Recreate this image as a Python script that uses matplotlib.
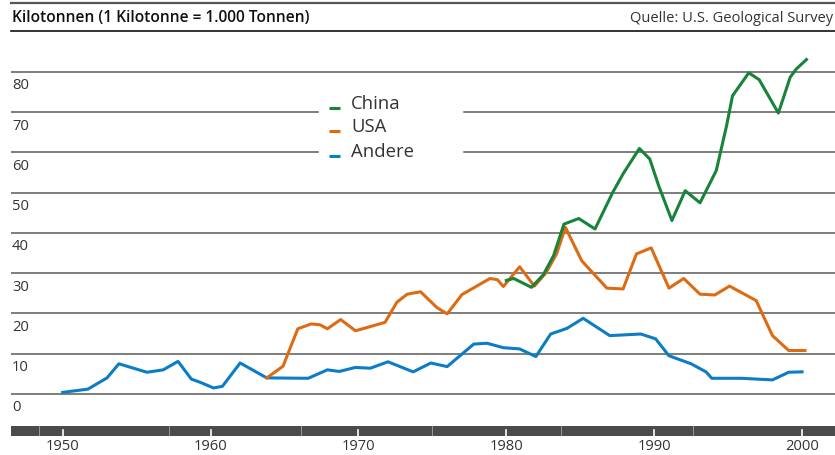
import matplotlib.pyplot as plt
from matplotlib.lines import Line2D

# Kilotonnen je Jahr
years_andere = [1950, 1951.7, 1953, 1953.8, 1955.7, 1956.8, 1957.8, 1958.7, 1959.3,
                1960.2, 1960.8, 1962.0, 1963.8, 1966.6, 1967.9, 1968.7, 1969.8, 1970.8,
                1972.0, 1973.7, 1974.9, 1976.0, 1977.8, 1978.7, 1979.8, 1980.9, 1982.0,
                1983.0, 1984.1, 1985.2, 1987.0, 1989.1, 1990.1, 1991.0, 1992.5, 1993.5,
                1993.9, 1995.9, 1998.0, 1999.1, 2000.0]
andere = [0.4, 1.2, 4.0, 7.5, 5.4, 6.0, 8.1, 3.7, 2.9,
          1.5, 1.9, 7.7, 4.0, 3.9, 6.0, 5.6, 6.6, 6.4,
          8.0, 5.5, 7.7, 6.8, 12.4, 12.6, 11.5, 11.2, 9.3,
          14.9, 16.3, 18.8, 14.5, 14.9, 13.7, 9.5, 7.5, 5.5,
          3.9, 3.9, 3.5, 5.4, 5.5]

years_usa = [1963.8, 1964.9, 1965.9, 1966.8, 1967.4, 1967.9, 1968.8, 1969.8, 1971.8,
             1972.6, 1973.3, 1974.2, 1975.3, 1976.0, 1977.0, 1978.9, 1979.4, 1979.8,
             1980.9, 1981.9, 1982.7, 1983.4, 1984.0, 1985.1, 1986.8, 1987.9, 1988.8,
             1989.8, 1991.0, 1992.0, 1993.1, 1994.1, 1995.1, 1996.9, 1998.0, 1999.1,
             2000.2]
usa = [4.0, 6.9, 16.2, 17.4, 17.2, 16.2, 18.5, 15.7, 17.8,
       22.8, 24.8, 25.4, 21.5, 19.9, 24.7, 28.7, 28.4, 26.7,
       31.6, 26.8, 30.2, 34.8, 41.4, 33.1, 26.3, 26.1, 34.8,
       36.3, 26.3, 28.7, 24.8, 24.6, 26.8, 23.2, 14.5, 10.8,
       10.8]

years_china = [1980.0, 1980.5, 1981.7, 1982.5, 1983.2, 1983.9, 1984.9, 1986.0, 1987.2,
               1987.9, 1989.0, 1989.7, 1990.3, 1991.2, 1992.1, 1993.1, 1994.2, 1994.9,
               1995.3, 1996.4, 1997.1, 1998.4, 1999.2, 1999.6, 2000.3]
china = [28.2, 28.7, 26.5, 29.6, 34.4, 42.2, 43.6, 41.0, 50.1,
         54.7, 61.0, 58.4, 51.8, 43.1, 50.5, 47.5, 55.5, 66.7,
         74.1, 79.8, 78.1, 69.8, 78.7, 80.7, 83.1]

y_ticks = [0, 10, 20, 30, 40, 50, 60, 70, 80]
x_ticks = [1950, 1960, 1970, 1980, 1990, 2000]
bar_breaks = [1948.4, 1957.2, 1966.1, 1975.0, 1983.7, 1992.6]

GREEN = '#17843a'
ORANGE = '#dc6b14'
BLUE = '#0c7cc4'
GRID = '#5a5a5a'
TEXT = '#333333'

plt.rcParams['font.family'] = ['Open Sans', 'DejaVu Sans']

fig = plt.figure(figsize=(8.35, 4.56), dpi=100)
ax = fig.add_axes([11 / 835, 0, 824 / 835, 416 / 456])
ax.set_xlim(1946.504, 2002.23)
ax.set_ylim(-15.16, 88.2)
ax.axis('off')

# horizontal grid, with a gap behind the legend
for v in y_ticks:
    if v in (60, 70):
        ax.plot([1946.504, 1967.25], [v, v], color=GRID, lw=1.1, zorder=1)
        ax.plot([1977.14, 2002.23], [v, v], color=GRID, lw=1.1, zorder=1)
    else:
        ax.axhline(v, color=GRID, lw=1.1, zorder=1)
    ax.text(1946.57, v - 3.2, str(v), ha='left', va='center', fontsize=10.6, color=TEXT)

# dark time bar with year ticks
ax.axhspan(-10.43, -7.95, color='#4b4b4d', lw=0, zorder=1)
for b in bar_breaks:
    ax.plot([b, b], [-10.43, -7.95], color='white', lw=0.6, alpha=0.5, zorder=2)
for yr in x_ticks:
    ax.plot([yr, yr], [-10.43, -9.0], color='white', lw=1.2, zorder=2)
    ax.text(yr, -12.9, str(yr), ha='center', va='center', fontsize=10.6, color=TEXT)

ax.plot(years_andere, andere, color=BLUE, lw=2.2, solid_joinstyle='round', zorder=3)
ax.plot(years_usa, usa, color=ORANGE, lw=2.2, solid_joinstyle='round', zorder=3)
ax.plot(years_china, china, color=GREEN, lw=2.2, solid_joinstyle='round', zorder=3)

# legend
for name, col, base in [('China', GREEN, 71.0), ('USA', ORANGE, 65.3), ('Andere', BLUE, 59.1)]:
    ax.plot([1968.04, 1968.76], [base + 0.1, base + 0.1], color=col, lw=2.2,
            solid_capstyle='butt', zorder=3)
    ax.text(1969.5, base, name, ha='left', va='baseline', fontsize=13.3, color=TEXT)

# header
fig.add_artist(Line2D([11 / 835, 1], [1 - 4 / 456] * 2, color='#555555', lw=1.6))
fig.add_artist(Line2D([11 / 835, 1], [1 - 32.3 / 456] * 2, color='#111111', lw=1.2))
fig.text(12 / 835, 1 - 18 / 456, 'Kilotonnen (1 Kilotonne = 1.000 Tonnen)',
         ha='left', va='center', fontsize=11.2, fontweight='semibold', color='#111111')
fig.text(833 / 835, 1 - 18 / 456, 'Quelle: U.S. Geological Survey',
         ha='right', va='center', fontsize=10.5, color=TEXT)

fig.savefig('out.png', dpi=100)
